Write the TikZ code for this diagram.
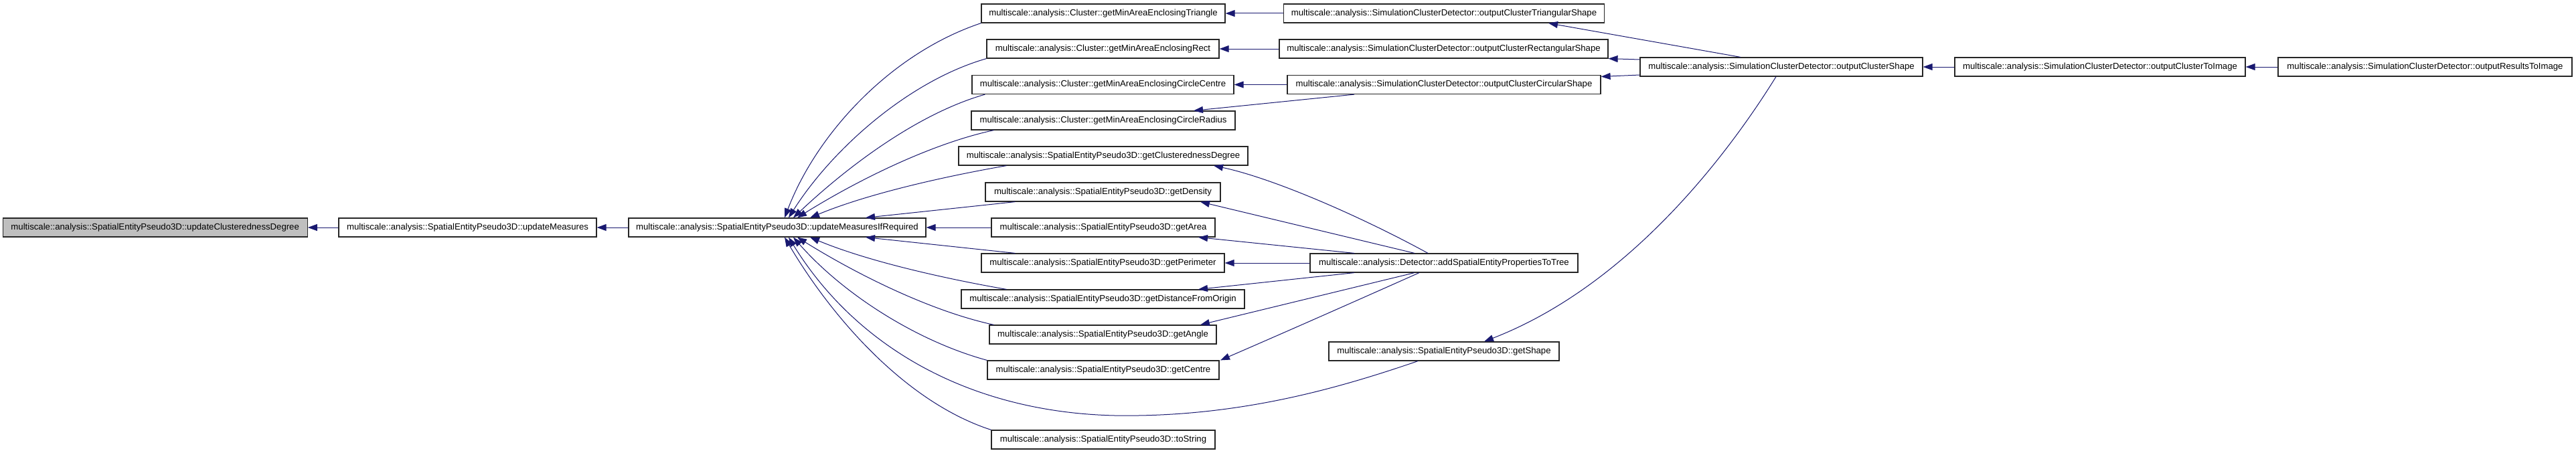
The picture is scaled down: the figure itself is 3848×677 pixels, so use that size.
\documentclass[tikz,border=0pt]{standalone}
\usepackage{fontspec}
\setmainfont{Liberation Sans}
\usetikzlibrary{arrows.meta,calc}
\definecolor{edgeblue}{HTML}{191970}
\definecolor{boxgray}{HTML}{BFBFBF}
\begin{document}
\begin{tikzpicture}[x=1pt,y=-1pt,
  fn/.style={draw=black!85,line width=1.2pt,fill=white,minimum height=28pt,inner sep=1pt,
    font=\fontsize{13.17}{15}\selectfont,anchor=center},
  call/.style={draw=edgeblue,line width=1pt,-{Triangle[length=14pt,width=10pt]}},
]
\useasboundingbox[fill=white] (0,0) rectangle (3848,677);

% column 1-3
\node[fn,fill=boxgray,minimum width=455pt] (n1) at (231.7,340) {multiscale::analysis::SpatialEntityPseudo3D::updateClusterednessDegree};
\node[fn,minimum width=385pt] (n2) at (698.5,340) {multiscale::analysis::SpatialEntityPseudo3D::updateMeasures};
\node[fn,minimum width=444pt] (n3) at (1161,340) {multiscale::analysis::SpatialEntityPseudo3D::updateMeasuresIfRequired};

% column 4
\node[fn,minimum width=364pt] (c4a) at (1648,20) {multiscale::analysis::Cluster::getMinAreaEnclosingTriangle};
\node[fn,minimum width=347pt] (c4b) at (1647.5,73) {multiscale::analysis::Cluster::getMinAreaEnclosingRect};
\node[fn,minimum width=391pt] (c4c) at (1647.5,126.5) {multiscale::analysis::Cluster::getMinAreaEnclosingCircleCentre};
\node[fn,minimum width=394pt] (c4d) at (1648,180) {multiscale::analysis::Cluster::getMinAreaEnclosingCircleRadius};
\node[fn,minimum width=432pt] (c4e) at (1648,233) {multiscale::analysis::SpatialEntityPseudo3D::getClusterednessDegree};
\node[fn,minimum width=351pt] (c4f) at (1647.5,287) {multiscale::analysis::SpatialEntityPseudo3D::getDensity};
\node[fn,minimum width=334pt] (c4g) at (1648,340) {multiscale::analysis::SpatialEntityPseudo3D::getArea};
\node[fn,minimum width=363pt] (c4h) at (1647.5,393) {multiscale::analysis::SpatialEntityPseudo3D::getPerimeter};
\node[fn,minimum width=423pt] (c4i) at (1647.5,447) {multiscale::analysis::SpatialEntityPseudo3D::getDistanceFromOrigin};
\node[fn,minimum width=339pt] (c4j) at (1647.5,500) {multiscale::analysis::SpatialEntityPseudo3D::getAngle};
\node[fn,minimum width=346pt] (c4k) at (1648,553) {multiscale::analysis::SpatialEntityPseudo3D::getCentre};
\node[fn,minimum width=334pt] (c4l) at (1648,657) {multiscale::analysis::SpatialEntityPseudo3D::toString};

% column 5
\node[fn,minimum width=479pt] (c5a) at (2157,20) {multiscale::analysis::SimulationClusterDetector::outputClusterTriangularShape};
\node[fn,minimum width=491pt] (c5b) at (2156.5,73) {multiscale::analysis::SimulationClusterDetector::outputClusterRectangularShape};
\node[fn,minimum width=468pt] (c5c) at (2157,126.5) {multiscale::analysis::SimulationClusterDetector::outputClusterCircularShape};
\node[fn,minimum width=400pt] (c5d) at (2157,393) {multiscale::analysis::Detector::addSpatialEntityPropertiesToTree};
\node[fn,minimum width=344pt] (c5e) at (2157,525) {multiscale::analysis::SpatialEntityPseudo3D::getShape};

% columns 6-8
\node[fn,minimum width=422pt] (c6) at (2661,100) {multiscale::analysis::SimulationClusterDetector::outputClusterShape};
\node[fn,minimum width=434pt] (c7) at (3137,100) {multiscale::analysis::SimulationClusterDetector::outputClusterToImage};
\node[fn,minimum width=439pt] (c8) at (3622.5,100) {multiscale::analysis::SimulationClusterDetector::outputResultsToImage};

% horizontal calls
\draw[call] (n2.west) -- (n1.east);
\draw[call] (n3.west) -- (n2.east);
\draw[call] (c4g.west) -- (n3.east);
\draw[call] (c5a.west) -- (c4a.east);
\draw[call] (c5b.west) -- (c4b.east);
\draw[call] (c5c.west) -- (c4c.east);
\draw[call] (c5d.west) -- (c4h.east);
\draw[call] (c7.west) -- (c6.east);
\draw[call] (c8.west) -- (c7.east);

% column 4 -> updateMeasuresIfRequired (top)
\draw[call] (c4a.south west) .. controls (1330,80) and (1220,200) .. ([xshift=11pt]n3.north);
\draw[call] (c4b.south west) .. controls (1360,120) and (1245,220) .. ([xshift=17pt]n3.north);
\draw[call] ([xshift=20pt]c4c.south west) .. controls (1370,170) and (1265,250) .. ([xshift=24pt]n3.north);
\draw[call] ([xshift=34pt]c4d.south west) .. controls (1390,215) and (1280,270) .. ([xshift=30pt]n3.north);
\draw[call] ([xshift=72pt]c4e.south west) .. controls (1420,262) and (1300,288) .. ([xshift=49pt]n3.north);
\draw[call] ([xshift=45pt]c4f.south west) -- ([xshift=132pt]n3.north);
% column 4 -> updateMeasuresIfRequired (bottom)
\draw[call] ([xshift=51pt]c4h.north west) -- ([xshift=132pt]n3.south);
\draw[call] ([xshift=68pt]c4i.north west) .. controls (1420,418) and (1300,392) .. ([xshift=49pt]n3.south);
\draw[call] ([xshift=7pt]c4j.north west) .. controls (1390,465) and (1280,410) .. ([xshift=30pt]n3.south);
\draw[call] (c4k.north west) .. controls (1370,510) and (1260,440) .. ([xshift=24pt]n3.south);
\draw[call] (c4l.north west) .. controls (1350,600) and (1240,470) .. ([xshift=11pt]n3.south);
\coordinate (low) at (1665,621);
\draw[call] ([xshift=-39pt]c5e.south) .. controls (2000,580) and (1850,624) .. (low)
  .. controls (1450,616) and (1280,520) .. ([xshift=17pt]n3.south);

% outputClusterCircularShape -> radius
\draw[call] ([xshift=-134pt]c5c.south) -- ([xshift=135pt]c4d.north);

% addSpatialEntityPropertiesToTree -> column 4
\draw[call] ([xshift=-24pt]c5d.north) .. controls (2030,322) and (1900,266) .. ([xshift=165pt]c4e.south);
\draw[call] ([xshift=-44pt]c5d.north) -- ([xshift=145.5pt]c4f.south);
\draw[call] ([xshift=-134pt]c5d.north) -- ([xshift=142pt]c4g.south);
\draw[call] ([xshift=-134pt]c5d.south) -- ([xshift=142.5pt]c4i.north);
\draw[call] ([xshift=-44pt]c5d.south) -- ([xshift=145.5pt]c4j.north);
\draw[call] ([xshift=-37pt]c5d.south) .. controls (1980,470) and (1900,505) .. ([xshift=175pt]c4k.north);

% outputClusterShape -> column 5
\draw[call] ([xshift=-61pt]c6.north) -- ([xshift=156pt]c5a.south);
\draw[call] ([yshift=11pt]c6.west) -- (c5b.south east);
\draw[call] ([yshift=-12pt]c6.west) -- ([yshift=12pt]c5c.east);
\draw[call] ([xshift=-8pt]c6.south) .. controls (2600,200) and (2450,420) .. ([xshift=60pt]c5e.north);
\end{tikzpicture}
\end{document}
